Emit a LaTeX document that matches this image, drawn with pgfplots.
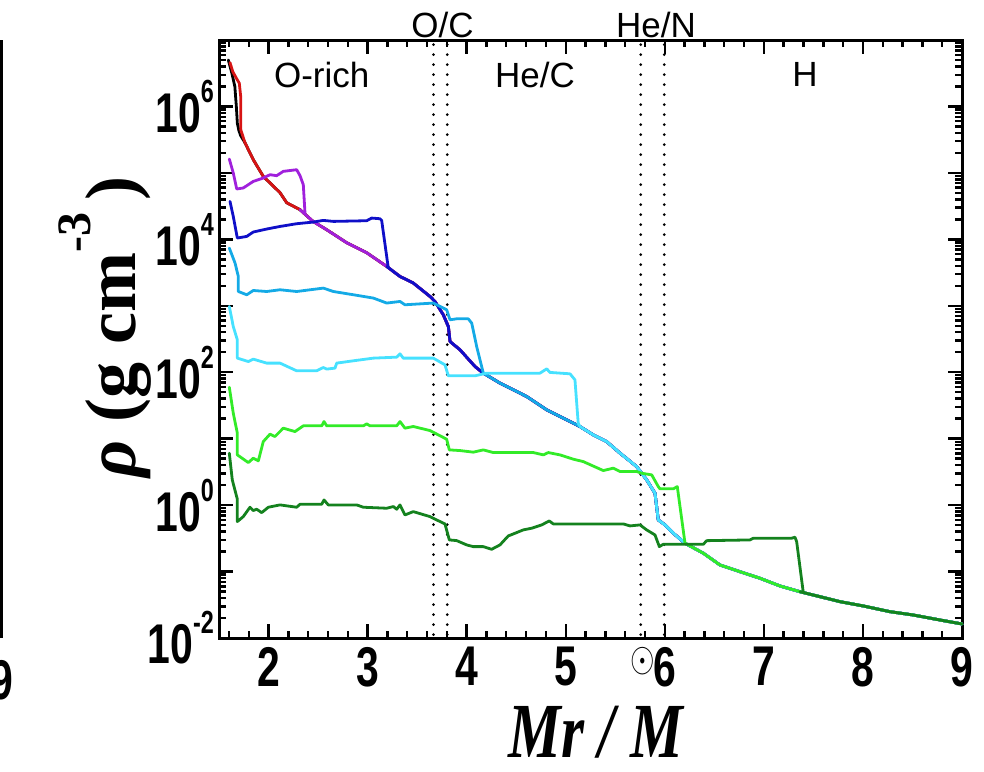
\documentclass[border=0pt]{standalone}
\usepackage{fontspec}
\setmainfont{Liberation Serif}
\newfontfamily\arial{Liberation Sans}
\usepackage{pgfplots}
\usepackage{pgfplotstable}
\pgfplotsset{compat=1.18}
\definecolor{cred}{RGB}{215,20,20}
\definecolor{cpurple}{RGB}{160,32,220}
\definecolor{cblue}{RGB}{15,15,200}
\definecolor{csky}{RGB}{20,170,230}
\definecolor{ccyan}{RGB}{70,225,255}
\definecolor{clgreen}{RGB}{50,235,40}
\definecolor{cdgreen}{RGB}{20,130,30}
% envelope shared by all profiles (x = Mr/Msun, y = log10 rho)
\pgfplotstableread{
x y
1.719 5.651
1.762 5.455
1.846 5.199
1.947 4.947
2.116 4.702
2.183 4.551
2.318 4.446
2.449 4.270
2.587 4.145
2.789 3.949
2.991 3.798
3.193 3.592
3.327 3.441
3.458 3.346
3.630 3.140
3.680 3.065
3.764 2.864
3.815 2.688
3.832 2.462
3.933 2.337
4.084 2.086
4.168 1.986
4.336 1.836
4.471 1.735
4.606 1.634
4.808 1.434
5.010 1.283
5.144 1.182
5.278 1.057
5.413 0.956
5.548 0.782
5.716 0.580
5.817 0.380
5.901 0.179
5.934 -0.223
6.002 -0.298
6.086 -0.423
6.204 -0.574
6.389 -0.724
6.557 -0.901
6.759 -1.002
6.961 -1.101
7.163 -1.217
7.364 -1.303
7.566 -1.378
7.768 -1.453
8.004 -1.518
8.273 -1.604
8.508 -1.654
8.778 -1.729
9.000 -1.789
}\env
\newcommand\tp[1]{10\raisebox{15pt}{\fontsize{16}{16}\selectfont #1}}
\begin{document}
\begin{tikzpicture}
\useasboundingbox (0,0) rectangle (492pt,385.5pt);
\begin{axis}[at={(109.5pt,66.5pt)}, anchor=south west,
 scale only axis, width=371.5pt, height=299pt,
 xmin=1.5, xmax=9, ymin=-2, ymax=7,
 xtick={2,...,9},
 xticklabels={2,3,4,5,6,7,8,9},
 minor xtick={1.6,1.8,2.2,2.4,2.6,2.8,3.2,3.4,3.6,3.8,4.2,4.4,4.6,4.8,5.2,5.4,5.6,5.8,6.2,6.4,6.6,6.8,7.2,7.4,7.6,7.8,8.2,8.4,8.6,8.8},
 ytick={-2,...,7},
 yticklabels={\tp{-2},,\tp{0},,\tp{2},,\tp{4},,\tp{6},},
 minor ytick={-1.699,-1.523,-1.398,-1.301,-1.222,-1.155,-1.097,-1.046,
 -0.699,-0.523,-0.398,-0.301,-0.222,-0.155,-0.097,-0.046,
 0.301,0.477,0.602,0.699,0.778,0.845,0.903,0.954,
 1.301,1.477,1.602,1.699,1.778,1.845,1.903,1.954,
 2.301,2.477,2.602,2.699,2.778,2.845,2.903,2.954,
 3.301,3.477,3.602,3.699,3.778,3.845,3.903,3.954,
 4.301,4.477,4.602,4.699,4.778,4.845,4.903,4.954,
 5.301,5.477,5.602,5.699,5.778,5.845,5.903,5.954,
 6.301,6.477,6.602,6.699,6.778,6.845,6.903,6.954},
 axis line style={line width=1.5pt},
 tick style={black, line width=1.2pt},
 major tick length=7pt, minor tick length=3.5pt,
 tick label style={font=\arial\bfseries\fontsize{28}{28}\selectfont, xscale=0.73},
 xticklabel style={yshift=-1pt},
 xlabel={\fontsize{39}{39}\selectfont\bfseries\itshape Mr / \makebox[0pt][l]{\hspace{0em}\raisebox{1.1em}{\fontsize{20}{20}\selectfont\upshape$\odot$}}M},
 xlabel style={at={(axis description cs:0.507,-0.2),}, anchor=base, xscale=0.76, text depth=0pt},
 ylabel={\fontsize{36}{36}\selectfont\bfseries\textit{ρ} (g cm\raisebox{0.62em}{\fontsize{24}{24}\selectfont -3}\,)},
 ylabel style={at={(axis description cs:-0.153,0.52)}, anchor=center, rotate=0},
 clip=false,
 every axis plot/.append style={line width=1.4pt, line join=round, line cap=round},
]
% zone boundaries
\addplot[black, line width=1.5pt, dash pattern=on 0pt off 5pt, line cap=round] coordinates {(3.665,-1.95) (3.665,6.95)};
\addplot[black, line width=1.5pt, dash pattern=on 0pt off 5pt, line cap=round] coordinates {(3.804,-1.95) (3.804,6.95)};
\addplot[black, line width=1.5pt, dash pattern=on 0pt off 5pt, line cap=round] coordinates {(5.757,-1.95) (5.757,6.95)};
\addplot[black, line width=1.5pt, dash pattern=on 0pt off 5pt, line cap=round] coordinates {(5.995,-1.95) (5.995,6.95)};
% black
\addplot[black] coordinates {(1.594,6.70) (1.63,6.50) (1.66,6.30) (1.675,6.00) (1.685,5.75) (1.70,5.64) (1.719,5.56) (1.762,5.455)};
\addplot[black] table[restrict x to domain=1.76:9]{\env};
% red
\addplot[cred] coordinates {(1.611,6.66) (1.64,6.52) (1.685,6.40) (1.705,6.35) (1.719,6.15) (1.719,5.651)};
\addplot[cred] table[restrict x to domain=1.70:9]{\env};
% purple
\addplot[cpurple] coordinates {(1.604,5.209) (1.644,4.999) (1.679,4.758) (1.745,4.773) (1.846,4.872) (1.947,4.923) (2.015,4.973) (2.082,4.958) (2.149,5.023) (2.284,5.048) (2.318,4.958) (2.351,4.822) (2.368,4.396)};
\addplot[cpurple] table[restrict x to domain=2.31:9]{\env};
% blue
\addplot[cblue] coordinates {(1.611,4.571) (1.644,4.345) (1.685,4.020) (1.780,4.044) (1.846,4.110) (1.981,4.155) (2.116,4.194) (2.284,4.235) (2.452,4.260) (2.553,4.285) (2.654,4.270) (2.991,4.280) (3.041,4.320) (3.125,4.310) (3.142,4.285) (3.209,3.568)};
\addplot[cblue] table[restrict x to domain=3.19:9]{\env};
% deep sky blue
\addplot[csky] coordinates {(1.604,3.869) (1.662,3.643) (1.695,3.441) (1.695,3.215) (1.780,3.166) (1.846,3.230) (1.981,3.215) (2.116,3.241) (2.284,3.215) (2.553,3.266) (2.654,3.215) (2.856,3.166) (3.058,3.116) (3.193,3.041) (3.327,3.065) (3.377,3.015) (3.663,3.041) (3.798,2.940) (3.832,2.789) (3.899,2.804) (4.016,2.804) (4.051,2.739) (4.101,2.387) (4.168,1.986)};
\addplot[csky] table[restrict x to domain=4.16:9]{\env};
% cyan
\addplot[ccyan] coordinates {(1.604,2.990) (1.644,2.688) (1.685,2.488) (1.685,2.212) (1.796,2.161) (1.846,2.197) (1.981,2.137) (2.116,2.137) (2.284,2.021) (2.486,2.021) (2.553,2.071) (2.587,2.047) (2.671,2.062) (2.688,2.137) (2.856,2.172) (3.058,2.212) (3.294,2.227) (3.327,2.277) (3.360,2.212) (3.663,2.212) (3.781,2.111) (3.815,1.946) (4.084,1.946) (4.202,1.986) (4.740,1.986) (4.808,2.051) (4.841,1.997) (5.043,1.976) (5.093,1.886) (5.126,1.233) (5.144,1.182)};
\addplot[ccyan] table[restrict x to domain=5.14:9]{\env};
% light green
\addplot[clgreen] coordinates {(1.604,1.775) (1.644,1.384) (1.685,1.083) (1.685,0.756) (1.796,0.640) (1.846,0.706) (1.897,0.666) (1.947,0.956) (2.015,1.068) (2.065,1.032) (2.149,1.158) (2.267,1.107) (2.351,1.193) (2.537,1.193) (2.560,1.258) (2.587,1.193) (2.957,1.193) (2.991,1.223) (3.024,1.193) (3.294,1.193) (3.327,1.258) (3.377,1.158) (3.461,1.183) (3.630,1.122) (3.798,0.992) (3.825,0.831) (3.933,0.821) (4.067,0.797) (4.168,0.831) (4.269,0.791) (4.673,0.791) (4.774,0.756) (4.824,0.791) (4.942,0.756) (5.077,0.691) (5.177,0.655) (5.379,0.520) (5.480,0.556) (5.548,0.505) (5.716,0.505) (5.767,0.480) (5.868,0.455) (5.934,0.279) (5.951,0.245) (6.086,0.245) (6.126,0.279) (6.204,-0.574)};
\addplot[clgreen] table[restrict x to domain=6.20:9]{\env};
% dark green
\addplot[cdgreen] coordinates {(1.604,0.782) (1.634,0.380) (1.685,0.089) (1.685,-0.248) (1.745,-0.173) (1.813,-0.032) (1.846,-0.082) (1.880,-0.062) (1.931,-0.113) (1.998,-0.032) (2.116,0.003) (2.284,-0.032) (2.318,0.013) (2.537,0.013) (2.560,0.078) (2.603,0.003) (2.890,0.003) (2.957,-0.032) (3.193,-0.047) (3.260,-0.022) (3.294,-0.062) (3.327,0.003) (3.377,-0.148) (3.461,-0.098) (3.630,-0.173) (3.697,-0.223) (3.781,-0.283) (3.825,-0.524) (3.899,-0.534) (4.000,-0.599) (4.067,-0.625) (4.168,-0.625) (4.252,-0.665) (4.336,-0.599) (4.420,-0.464) (4.572,-0.373) (4.656,-0.348) (4.757,-0.298) (4.834,-0.238) (4.874,-0.283) (5.581,-0.283) (5.649,-0.313) (5.750,-0.298) (5.817,-0.373) (5.901,-0.449) (5.945,-0.625) (5.985,-0.589) (6.389,-0.589) (6.423,-0.535) (6.860,-0.524) (6.893,-0.498) (7.281,-0.498) (7.314,-0.483) (7.331,-0.550) (7.398,-1.317)};
\addplot[cdgreen] table[restrict x to domain=7.36:9]{\env};
% zone labels
\node[font=\arial\fontsize{17.5}{17.5}\selectfont] at (axis cs:2.537,6.479) {O-rich};
\node[font=\arial\fontsize{17.5}{17.5}\selectfont] at (axis cs:4.69,6.479) {He/C};
\node[font=\arial\fontsize{17.5}{17.5}\selectfont] at (axis cs:7.415,6.479) {H};
\node[font=\arial\fontsize{17.5}{17.5}\selectfont] at (axis cs:3.756,7.232) {O/C};
\node[font=\arial\fontsize{17.5}{17.5}\selectfont] at (axis cs:5.911,7.232) {He/N};
\end{axis}
% edge of the neighbouring panel
\draw[line width=1.5pt] (0.75pt,66.5pt) -- (0.75pt,365.5pt);
\node[font=\arial\bfseries\fontsize{28}{28}\selectfont, xscale=0.73] at (1pt,45.5pt) {9};
\end{tikzpicture}
\end{document}
